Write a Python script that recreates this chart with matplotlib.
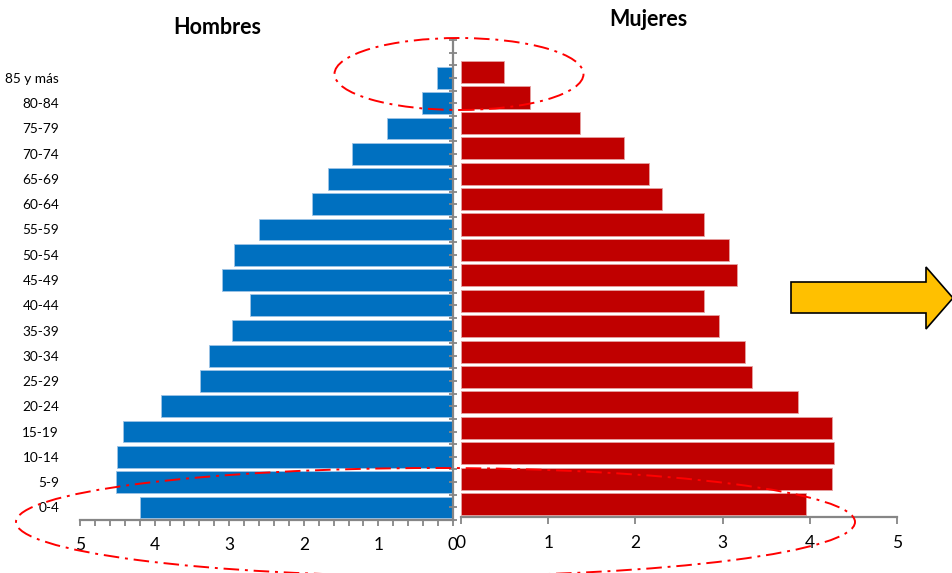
import matplotlib
matplotlib.use("Agg")
import matplotlib.pyplot as plt
from matplotlib.patches import Ellipse, Polygon
import numpy as np

plt.rcParams['font.family'] = ['Lato', 'DejaVu Sans']

categories = ["0-4", "5-9", "10-14", "15-19", "20-24", "25-29", "30-34", "35-39",
              "40-44", "45-49", "50-54", "55-59", "60-64", "65-69", "70-74",
              "75-79", "80-84", "85 y más"]
hombres = [4.20, 4.52, 4.50, 4.42, 3.91, 3.39, 3.27, 2.96, 2.72, 3.10, 2.93,
           2.60, 1.89, 1.67, 1.35, 0.89, 0.42, 0.21]
mujeres = [3.96, 4.26, 4.28, 4.25, 3.87, 3.34, 3.26, 2.96, 2.79, 3.17, 3.07,
           2.79, 2.31, 2.16, 1.87, 1.37, 0.79, 0.49]
xticks = [0, 1, 2, 3, 4, 5]

W, H = 952, 573
fig = plt.figure(figsize=(W / 100, H / 100), dpi=100)

def frac(x0, y_top, x1, y_bot):
    return [x0 / W, 1 - y_bot / H, (x1 - x0) / W, (y_bot - y_top) / H]

grey = '#868686'
y = np.arange(len(categories))

# Left: Hombres
axl = fig.add_axes(frac(80, 40, 453, 520))
axl.barh(y, hombres, height=0.86, color='#0070C0', edgecolor='#9DC3E6', linewidth=0.6)
axl.set_xlim(5, 0)
axl.set_ylim(-0.5, 18.5)
for s in ['top', 'left']:
    axl.spines[s].set_visible(False)
for s in ['right', 'bottom']:
    axl.spines[s].set_color(grey)
    axl.spines[s].set_linewidth(1.6)
axl.set_xticks(xticks)
axl.set_xticklabels([str(v) for v in xticks], fontsize=12.5)
axl.set_xticks(np.arange(0, 5.01, 0.2), minor=True)
axl.tick_params(axis='x', which='both', direction='out', length=4, width=1.3,
                color=grey, pad=8)
axl.set_yticks(np.arange(19))
axl.set_yticklabels(categories + [''], fontsize=9.8)
axl.set_yticks(np.arange(-0.5, 19, 1), minor=True)
axl.tick_params(axis='y', which='both', left=False, right=True, labelleft=True,
                labelright=False, direction='inout', length=6, width=1.3,
                color=grey, pad=12)

# Right: Mujeres
axr = fig.add_axes(frac(461, 34, 897, 516.7))
axr.barh(y, mujeres, height=0.87, color='#C00000', edgecolor='#E6A0A0', linewidth=0.6)
axr.set_xlim(0, 5)
axr.set_ylim(-0.5, 18.5)
for s in ['top', 'left', 'right']:
    axr.spines[s].set_visible(False)
axr.spines['bottom'].set_color(grey)
axr.spines['bottom'].set_linewidth(1.6)
axr.set_xticks(xticks)
axr.set_xticklabels([str(v) for v in xticks], fontsize=12.5)
axr.tick_params(axis='x', direction='out', length=5, width=1.3, color=grey, pad=8)
axr.set_yticks([])

# Titles
fig.text(217 / W, 1 - 28 / H, "Hombres", fontsize=15.5, fontweight='bold',
         ha='center', va='center')
fig.text(648 / W, 1 - 20 / H, "Mujeres", fontsize=15.5, fontweight='bold',
         ha='center', va='center')

# Dash-dot ellipses
ls = (0, (8, 3, 1.5, 3))
fig.add_artist(Ellipse((459 / W, 1 - 74 / H), 249 / W, 72 / H,
                       transform=fig.transFigure, fill=False, edgecolor='red',
                       linewidth=1.4, linestyle=ls, zorder=10))
fig.add_artist(Ellipse((435.5 / W, 1 - 522 / H), 839 / W, 108 / H,
                       transform=fig.transFigure, fill=False, edgecolor='red',
                       linewidth=1.4, linestyle=ls, zorder=10))

# Arrow
pts = [(791, 282), (926, 282), (926, 267), (953, 298), (926, 329), (926, 313), (791, 313)]
fig.add_artist(Polygon([(px / W, 1 - py / H) for px, py in pts], closed=True,
                       transform=fig.transFigure, facecolor='#FFC000',
                       edgecolor='black', linewidth=1.2, zorder=10))

fig.savefig("out.png", dpi=100)
